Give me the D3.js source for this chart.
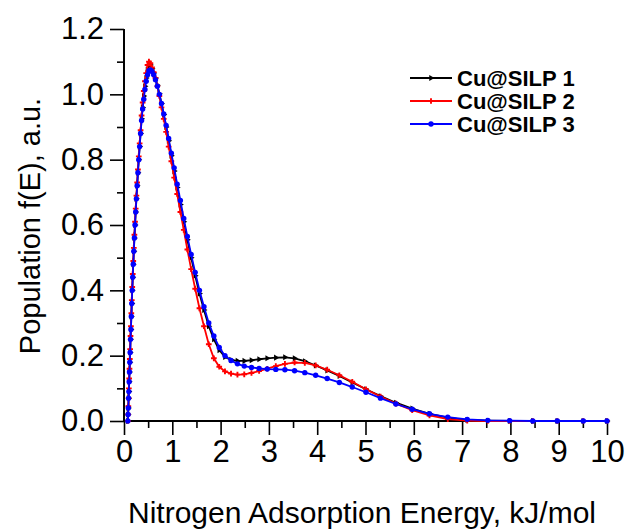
<!DOCTYPE html>
<html>
  <head>
    <meta charset="utf-8">
    <title>Adsorption energy distribution</title>
    <style>
      body{margin:0; background:#fff;}
      svg{font-family: "Liberation Sans", Arial, sans-serif;}
    </style>
    <script src="https://d3js.org/d3.v7.min.js"></script>
  </head>
  <body>
    <script>

        // energy grid, kJ/mol (shared by all three samples)
        var energy = [0.080,0.0848,0.0899,0.0953,0.1010,0.1071,0.1135,0.1203,0.1275,0.1352,
            0.1433,0.1519,0.1610,0.1706,0.1809,0.1917,0.2032,0.2154,0.2283,0.2420,
            0.2566,0.2720,0.2883,0.3056,0.3239,0.3434,0.3640,0.3858,0.4090,0.4335,
            0.4595,0.4871,0.5163,0.5473,0.5801,0.6149,0.6518,0.6909,0.7324,0.7763,
            0.8229,0.8722,0.9246,0.9800,1.0388,1.1012,1.1672,1.2373,1.3115,1.3902,
            1.4736,1.5620,1.6558,1.7551,1.8604,1.9720,2.0904,2.2158,2.3487,2.4897,
            2.6390,2.7974,2.9652,3.1431,3.3317,3.5316,3.7435,3.9681,4.2062,4.4586,
            4.7261,5.0096,5.3102,5.6288,5.9666,6.3246,6.7040,7.1063,7.5326,7.9846,
            8.4637,8.9715,9.5098,10.0];

        var silp1 = [0.00,0.02,0.04,0.07,0.09,0.12,0.15,0.18,0.21,0.25,0.28,0.32,0.36,0.40,0.44,0.48,0.52,0.56,0.60,0.64,
            0.68,0.72,0.76,0.80,0.84,0.88,0.925,0.96,0.995,1.025,1.05,1.075,1.09,1.09,1.078,
            1.065,1.05,1.028,1.002,0.972,0.938,0.90,0.858,0.812,0.765,0.715,0.663,0.61,0.555,0.50,
            0.445,0.39,0.34,0.29,0.25,0.217,0.196,0.187,0.184,0.184,
            0.186,0.189,0.192,0.194,0.195,0.192,0.183,0.17,0.155,0.138,0.118,0.097,0.076,0.056,0.038,
            0.022,0.01,0.003,0.001,0,0,0,0,0];

        var silp2 = [0.00,0.02,0.045,0.07,0.10,0.13,0.16,0.19,0.22,0.26,0.29,0.33,0.37,0.41,0.45,0.49,0.53,0.57,0.61,0.65,
            0.69,0.73,0.77,0.81,0.85,0.89,0.935,0.975,1.01,1.04,1.065,1.09,1.10,1.095,1.082,
            1.068,1.05,1.025,0.995,0.96,0.925,0.885,0.84,0.795,0.745,0.695,0.64,0.585,0.525,0.465,
            0.405,0.345,0.29,0.235,0.192,0.166,0.152,0.145,0.142,0.143,
            0.147,0.153,0.16,0.168,0.175,0.179,0.178,0.17,0.157,0.14,0.12,0.097,0.075,0.053,0.033,
            0.017,0.006,0.001,0,0,0,0,0,0];

        var silp3 = [0.00,0.02,0.04,0.07,0.09,0.12,0.15,0.18,0.21,0.25,0.28,0.32,0.36,0.40,0.44,0.48,0.52,0.56,0.60,0.64,
            0.68,0.72,0.76,0.80,0.84,0.88,0.92,0.955,0.985,1.015,1.04,1.06,1.072,1.075,1.07,
            1.06,1.045,1.025,1.0,0.972,0.94,0.905,0.865,0.82,0.775,0.725,0.675,0.62,0.565,0.51,
            0.455,0.40,0.35,0.30,0.26,0.225,0.20,0.185,0.175,0.168,
            0.164,0.161,0.159,0.158,0.157,0.154,0.148,0.14,0.13,0.118,0.104,0.088,0.07,0.052,0.036,
            0.022,0.012,0.005,0.002,0.001,0,0,0,0];

        var seriesNames = ["Cu@SILP 1", "Cu@SILP 2", "Cu@SILP 3"];
        var seriesValues = [silp1, silp2, silp3];
        var seriesColors = ["#000000", "#ff0000", "#0000ff"];

        var xMajor = [0,1,2,3,4,5,6,7,8,9,10];
        var xMinor = [0.5,1.5,2.5,3.5,4.5,5.5,6.5,7.5,8.5,9.5];
        var yMajor = [0,0.2,0.4,0.6,0.8,1.0,1.2];
        var yMinor = [0.1,0.3,0.5,0.7,0.9,1.1];

        var width = 628, height = 531;
        var plotL = 124, plotR = 607, plotT = 29, plotB = 421;

        var svg = d3.select("body").append("svg")
            .attr("width", width)
            .attr("height", height);

        var x = d3.scaleLinear().domain([0, 10]).range([plotL, plotR]);
        var y = d3.scaleLinear().domain([0, 1.2]).range([plotB, plotT]);

        // axes: major ticks with labels, minor ticks without
        var gx = svg.append("g").attr("transform", "translate(0," + plotB + ")");
        gx.call(d3.axisBottom(x).tickValues(xMajor).tickSize(14).tickPadding(5).tickFormat(d3.format("d")));
        gx.append("g").call(d3.axisBottom(x).tickValues(xMinor).tickSize(7).tickFormat(""));

        var gy = svg.append("g").attr("transform", "translate(" + plotL + ",0)");
        gy.call(d3.axisLeft(y).tickValues(yMajor).tickSize(14).tickPadding(6).tickFormat(d3.format(".1f")));
        gy.append("g").call(d3.axisLeft(y).tickValues(yMinor).tickSize(7).tickFormat(""));

        svg.selectAll(".domain").attr("stroke", "#000").attr("stroke-width", 1.8);
        svg.selectAll(".tick line").attr("stroke", "#000").attr("stroke-width", 1.6);
        svg.selectAll(".tick text").attr("fill", "#000").style("font-size", "31px");
        gx.selectAll(".domain").attr("d", "M" + plotL + ",0H" + plotR);
        gy.selectAll(".domain").attr("d", "M0," + plotB + "V" + plotT);

        var line = d3.line()
            .x(function (d, i) { return x(energy[i]); })
            .y(function (d) { return y(d); });

        // marker shapes: triangle, plus, circle
        var tri = d3.symbol().type(d3.symbolTriangle).size(16);
        var plus = d3.symbol().type(d3.symbolCross).size(18);

        function drawMarkers(g, k, values, cx, cy) {
            var col = seriesColors[k];
            if (k === 0) {
                g.selectAll("path.m").data(values).enter().append("path")
                    .attr("class", "m")
                    .attr("d", tri)
                    .attr("transform", function (d, i) {
                        return "translate(" + cx(d, i) + "," + cy(d, i) + ") rotate(90)";
                    })
                    .attr("fill", col);
            } else if (k === 1) {
                g.selectAll("path.m").data(values).enter().append("path")
                    .attr("class", "m")
                    .attr("d", plus)
                    .attr("transform", function (d, i) {
                        return "translate(" + cx(d, i) + "," + cy(d, i) + ")";
                    })
                    .attr("fill", col);
            } else {
                g.selectAll("circle.m").data(values).enter().append("circle")
                    .attr("class", "m")
                    .attr("cx", cx).attr("cy", cy)
                    .attr("r", 2.7)
                    .attr("fill", col);
            }
        }

        seriesValues.forEach(function (vals, k) {
            var g = svg.append("g");
            g.append("path")
                .datum(vals)
                .attr("d", line)
                .attr("fill", "none")
                .attr("stroke", seriesColors[k])
                .attr("stroke-width", 1.8);
            drawMarkers(g, k, vals,
                function (d, i) { return x(energy[i]); },
                function (d) { return y(d); });
        });

        // legend
        var legend = svg.append("g");
        seriesNames.forEach(function (name, k) {
            var ly = 78 + k * 23;
            legend.append("line")
                .attr("x1", 410).attr("x2", 452)
                .attr("y1", ly).attr("y2", ly)
                .attr("stroke", seriesColors[k]).attr("stroke-width", 1.8);
            var mg = legend.append("g");
            drawMarkers(mg, k, [0],
                function () { return 431; },
                function () { return ly; });
            legend.append("text")
                .attr("x", 457).attr("y", ly)
                .attr("dy", "0.35em")
                .style("font-size", "22px")
                .style("font-weight", "bold")
                .text(name);
        });

        // axis titles
        svg.append("text")
            .attr("x", 362).attr("y", 523)
            .attr("text-anchor", "middle")
            .style("font-size", "30px")
            .text("Nitrogen Adsorption Energy, kJ/mol");

        svg.append("text")
            .attr("transform", "translate(40,226) rotate(-90)")
            .attr("text-anchor", "middle")
            .style("font-size", "29px")
            .text("Population f(E), a.u.");

    </script>
  </body>
</html>
